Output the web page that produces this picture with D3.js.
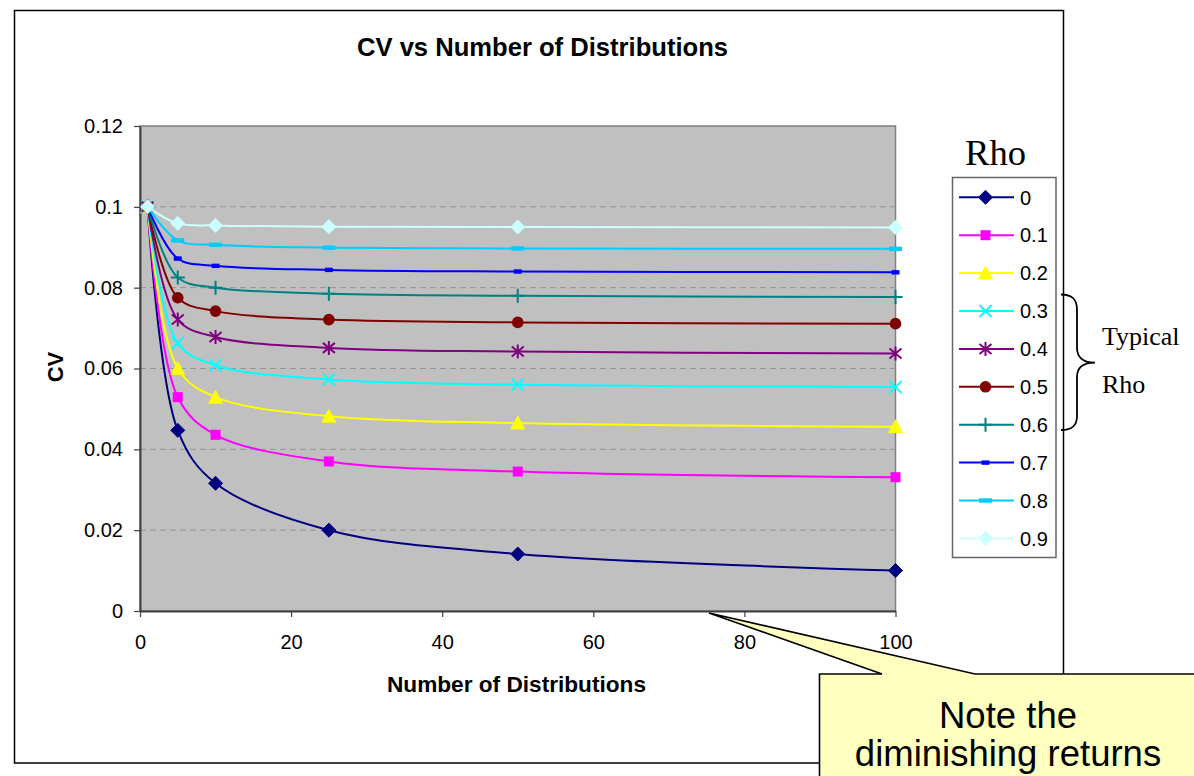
<!DOCTYPE html>
<html><head><meta charset="utf-8">
<script src="https://cdn.jsdelivr.net/npm/d3@7"></script>
<style>body{margin:0;background:#fff}svg{display:block}</style>
</head><body>
<svg id="c" width="1194" height="776"></svg>
<script>
// ---------- data ----------
const nDist = [1, 5, 10, 25, 50, 100];
const rhoLabels = ["0", "0.1", "0.2", "0.3", "0.4", "0.5", "0.6", "0.7", "0.8", "0.9"];
const cvRho00 = [0.1, 0.0447, 0.0316, 0.0200, 0.0141, 0.0100];
const cvRho01 = [0.1, 0.0529, 0.0436, 0.0370, 0.0345, 0.0331];
const cvRho02 = [0.1, 0.0600, 0.0529, 0.0482, 0.0465, 0.0456];
const cvRho03 = [0.1, 0.0663, 0.0608, 0.0573, 0.0560, 0.0554];
const cvRho04 = [0.1, 0.0721, 0.0678, 0.0651, 0.0642, 0.0637];
const cvRho05 = [0.1, 0.0775, 0.0742, 0.0721, 0.0714, 0.0711];
const cvRho06 = [0.1, 0.0825, 0.0800, 0.0785, 0.0780, 0.0777];
const cvRho07 = [0.1, 0.0872, 0.0854, 0.0844, 0.0840, 0.0838];
const cvRho08 = [0.1, 0.0917, 0.0906, 0.0899, 0.0897, 0.0896];
const cvRho09 = [0.1, 0.0959, 0.0954, 0.0951, 0.0950, 0.0949];
const seriesColors = ["#000080", "#FF00FF", "#FFFF00", "#00FFFF", "#800080", "#800000", "#008080", "#0000FF", "#00CCFF", "#CCFFFF"];
const seriesMarkers = ["diamond", "square", "triangle", "x", "star", "circle", "plus", "dashS", "dashL", "diamond"];
const xTicks = [0, 20, 40, 60, 80, 100];
const yTicks = [0, 0.02, 0.04, 0.06, 0.08, 0.1, 0.12];
const yTickLabels = ["0", "0.02", "0.04", "0.06", "0.08", "0.1", "0.12"];
const titleText = "CV vs Number of Distributions";
const xTitle = "Number of Distributions";
const yTitle = "CV";
const legendTitle = "Rho";
const noteLines = ["Note the", "diminishing returns"];
const typicalLines = ["Typical", "Rho"];

const cvValues = [cvRho00, cvRho01, cvRho02, cvRho03, cvRho04, cvRho05, cvRho06, cvRho07, cvRho08, cvRho09];
const series = rhoLabels.map((r, i) => ({
  label: r, color: seriesColors[i], marker: seriesMarkers[i],
  points: nDist.map((n, j) => ({ n, v: cvValues[i][j] }))
}));

// ---------- layout ----------
const SANS = "'Liberation Sans', Arial, sans-serif";
const SERIF = "'Liberation Serif', 'Times New Roman', serif";
const svg = d3.select("#c");
const P = { l: 140, r: 895.5, t: 126, b: 611 };
const x = d3.scaleLinear().domain([0, 100]).range([P.l, P.r]);
const y = d3.scaleLinear().domain([0, 0.12]).range([P.b, P.t]);

// chart outer box
svg.append("rect").attr("x", 14.5).attr("y", 10.5).attr("width", 1049).attr("height", 752.5)
  .attr("fill", "#fff").attr("stroke", "#000").attr("stroke-width", 1.5);

// title
svg.append("text").attr("x", 542.5).attr("y", 55.7).attr("text-anchor", "middle")
  .attr("font-family", SANS).attr("font-weight", "bold").attr("font-size", 25)
  .attr("textLength", 371).attr("lengthAdjust", "spacingAndGlyphs").text(titleText);

// plot area
svg.append("rect").attr("x", P.l).attr("y", P.t).attr("width", P.r - P.l).attr("height", P.b - P.t)
  .attr("fill", "#C0C0C0").attr("stroke", "#808080").attr("stroke-width", 1.5);

// gridlines
svg.append("g").selectAll("line").data(yTicks.filter(d => d > 0 && d < 0.12)).join("line")
  .attr("x1", P.l).attr("x2", P.r).attr("y1", d => y(d)).attr("y2", d => y(d))
  .attr("stroke", "#949494").attr("stroke-width", 1).attr("stroke-dasharray", "6,4");

// axes
const fmtY = d => yTickLabels[yTicks.findIndex(t => Math.abs(t - d) < 1e-9)];
const yAxis = svg.append("g").attr("transform", `translate(${P.l},0)`)
  .call(d3.axisLeft(y).tickValues(yTicks).tickFormat(fmtY).tickSize(6).tickPadding(11).tickSizeOuter(0));
const xAxis = svg.append("g").attr("transform", `translate(0,${P.b})`)
  .call(d3.axisBottom(x).tickValues(xTicks).tickFormat(d3.format("d")).tickSize(6).tickPadding(18).tickSizeOuter(0));
[yAxis, xAxis].forEach(a => {
  a.select(".domain").attr("stroke", "#404040").attr("stroke-width", 2);
  a.selectAll(".tick line").attr("stroke", "#404040").attr("stroke-width", 1.2);
  a.selectAll("text").attr("font-family", SANS).attr("font-size", 20).attr("fill", "#000");
});

// axis titles
svg.append("text").attr("x", 516.5).attr("y", 691.5).attr("text-anchor", "middle")
  .attr("font-family", SANS).attr("font-weight", "bold").attr("font-size", 22.5)
  .attr("textLength", 259).attr("lengthAdjust", "spacingAndGlyphs").text(xTitle);
svg.append("text").attr("transform", "translate(63.3,367) rotate(-90)").attr("text-anchor", "middle")
  .attr("font-family", SANS).attr("font-weight", "bold").attr("font-size", 22).text(yTitle);

// markers
function drawMarker(g, type, color, cx, cy) {
  const m = g.append("g").attr("transform", `translate(${cx},${cy})`);
  switch (type) {
    case "diamond":
      m.append("path").attr("d", "M0,-7L7,0L0,7L-7,0Z").attr("fill", color).attr("stroke", color).attr("stroke-width", 1); break;
    case "square":
      m.append("rect").attr("x", -5).attr("y", -5).attr("width", 10).attr("height", 10).attr("fill", color); break;
    case "triangle":
      m.append("path").attr("d", "M0,-7L7,6L-7,6Z").attr("fill", color).attr("stroke", color).attr("stroke-width", 0.8); break;
    case "x":
      m.append("path").attr("d", "M-6,-6L6,6M-6,6L6,-6").attr("stroke", color).attr("stroke-width", 2).attr("fill", "none"); break;
    case "star":
      m.append("path").attr("d", "M-6,-5L6,5M-6,5L6,-5M0,-7L0,7").attr("stroke", color).attr("stroke-width", 2).attr("fill", "none"); break;
    case "circle":
      m.append("circle").attr("r", 5.8).attr("fill", color); break;
    case "plus":
      m.append("path").attr("d", "M-7,0L7,0M0,-7L0,7").attr("stroke", color).attr("stroke-width", 2).attr("fill", "none"); break;
    case "dashS":
      m.append("rect").attr("x", -4).attr("y", -2.2).attr("width", 8).attr("height", 4.4).attr("fill", color); break;
    case "dashL":
      m.append("rect").attr("x", -6.5).attr("y", -2.2).attr("width", 13).attr("height", 4.4).attr("fill", color); break;
  }
}

// series
const line = d3.line().x(d => x(d.n)).y(d => y(d.v)).curve(d3.curveCatmullRom.alpha(0.5));
const sg = svg.append("g");
series.forEach(s => {
  const g = sg.append("g");
  g.append("path").datum(s.points).attr("d", line).attr("fill", "none")
    .attr("stroke", s.color).attr("stroke-width", 2);
  s.points.forEach(p => drawMarker(g, s.marker, s.color, x(p.n), y(p.v)));
});

// legend
svg.append("text").attr("x", 965).attr("y", 165).attr("font-family", SERIF).attr("font-size", 35)
  .attr("textLength", 61).attr("lengthAdjust", "spacingAndGlyphs").text(legendTitle);
svg.append("rect").attr("x", 952.5).attr("y", 177.5).attr("width", 103.5).attr("height", 380)
  .attr("fill", "#fff").attr("stroke", "#666").attr("stroke-width", 1.5);
const lg = svg.append("g");
series.forEach((s, i) => {
  const ly = 197.3 + i * 37.9;
  lg.append("line").attr("x1", 959).attr("x2", 1014).attr("y1", ly).attr("y2", ly)
    .attr("stroke", s.color).attr("stroke-width", 2);
  drawMarker(lg, s.marker, s.color, 985.5, ly);
  lg.append("text").attr("x", 1020).attr("y", ly + 7.2).attr("font-family", SANS).attr("font-size", 20).text(s.label);
});

// brace "Typical Rho"
svg.append("path")
  .attr("d", "M1061,294.5 C1073,294.5 1077,300 1077,310 L1077,348 C1077,357 1083,362.7 1095,362.7 C1083,362.7 1077,368 1077,377 L1077,416 C1077,425 1073,430 1061,430")
  .attr("fill", "none").attr("stroke", "#000").attr("stroke-width", 1.8);
typicalLines.forEach((t, i) => {
  svg.append("text").attr("x", 1102).attr("y", 345 + i * 48).attr("font-family", SERIF).attr("font-size", 26).text(t);
});

// callout
const cg = svg.append("g");
cg.append("path")
  .attr("d", "M882,674 L709,613 L975,674 L1200,674 L1200,780 L819.5,780 L819.5,674 Z")
  .attr("fill", "#FFFFC0").attr("stroke", "none");
cg.append("path").attr("d", "M882,674 L709,613 L975,674 L1200,674").attr("fill", "none").attr("stroke", "#000").attr("stroke-width", 1.6);
cg.append("path").attr("d", "M882,674 L819.5,674 L819.5,780").attr("fill", "none").attr("stroke", "#000").attr("stroke-width", 1.6);
noteLines.forEach((t, i) => {
  cg.append("text").attr("x", 1008).attr("y", 728 + i * 37.5).attr("text-anchor", "middle")
    .attr("font-family", SANS).attr("font-size", 36.5).text(t);
});
</script>
</body></html>
